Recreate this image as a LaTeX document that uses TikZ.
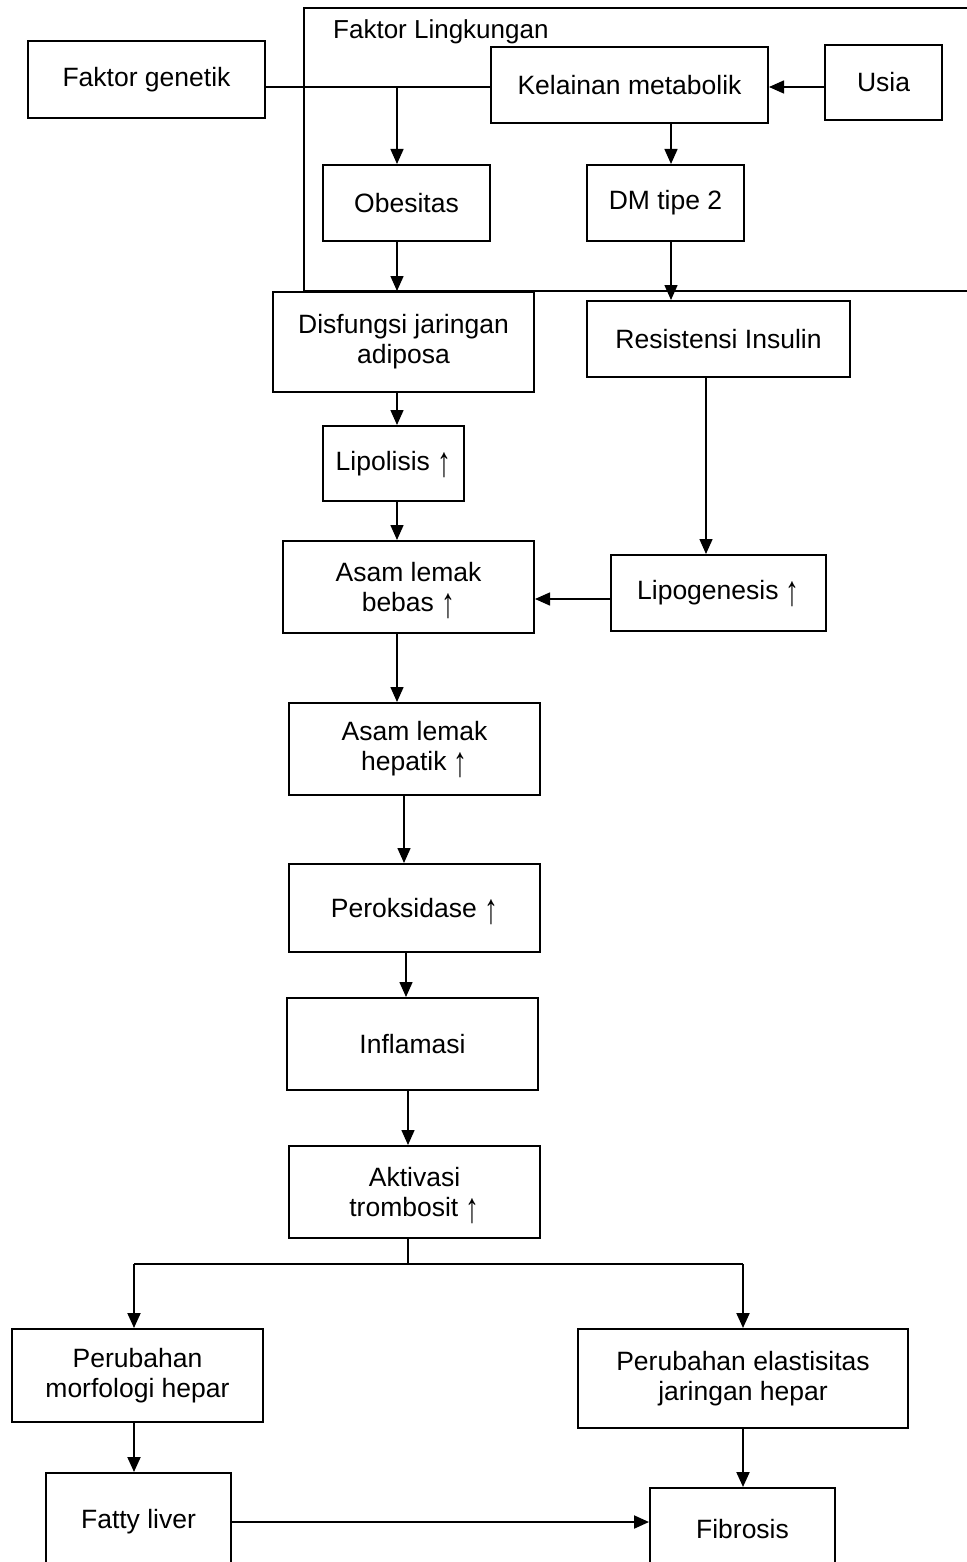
\documentclass[tikz,border=0pt]{standalone}
\usepackage{fontspec}
\setmainfont{Liberation Sans}
\usetikzlibrary{arrows.meta,calc}
\newcommand{\uparr}{\smash{\raisebox{-0.22em}{\scalebox{1.05}[1.6]{↑}}}}
\begin{document}
\begin{tikzpicture}[x=1pt,y=-1pt,
  box/.style={draw, line width=2pt, align=center, inner sep=0pt, font=\fontsize{26.5}{30}\selectfont},
  arr/.style={line width=1.5pt, -{Triangle[width=13pt,length=15pt]}},
  ln/.style={line width=1.5pt},
  frameline/.style={line width=2.5pt}]
\useasboundingbox (0,0) rectangle (966,1562);

% environment frame
\draw[frameline] (975,8) -- (304,8) -- (304,291) -- (975,291);
\node[anchor=base west, inner sep=0pt, font=\fontsize{26}{30}\selectfont] (lingk) at (333,39) {Faktor Lingkungan};

% boxes
\node[box, minimum width=237pt, minimum height=77pt] (gen) at (146.5,79.5) {Faktor genetik};
\node[box, minimum width=277pt, minimum height=76pt] (kel) at (629.5,85) {Kelainan metabolik};
\node[box, minimum width=117pt, minimum height=75pt] (usia) at (883.5,82.5) {Usia};
\node[box, minimum width=167pt, minimum height=76pt] (obes) at (406.5,203) {Obesitas};
\node[box, minimum width=157pt, minimum height=76pt] (dm) at (665.5,203) {DM tipe 2};
\node[box, minimum width=261pt, minimum height=100pt] (dis) at (403.5,342) {Disfungsi jaringan\\adiposa};
\node[box, minimum width=263pt, minimum height=76pt] (res) at (718.5,339) {Resistensi Insulin};
\node[box, minimum width=141pt, minimum height=75pt] (lipo) at (393.5,463.5) {Lipolisis \uparr};
\node[box, minimum width=251pt, minimum height=92pt] (alb) at (408.5,587) {Asam lemak\\bebas \uparr};
\node[box, minimum width=215pt, minimum height=76pt] (lipog) at (718.5,593) {Lipogenesis \uparr};
\node[box, minimum width=251pt, minimum height=92pt] (alh) at (414.5,749) {Asam lemak\\hepatik \uparr};
\node[box, minimum width=251pt, minimum height=88pt] (per) at (414.5,908) {Peroksidase \uparr};
\node[box, minimum width=251pt, minimum height=92pt] (inf) at (412.5,1044) {Inflamasi};
\node[box, minimum width=251pt, minimum height=92pt] (akt) at (414.5,1192) {Aktivasi\\trombosit \uparr};
\node[box, minimum width=251pt, minimum height=93pt] (morf) at (137.5,1375.5) {Perubahan\\morfologi hepar};
\node[box, minimum width=330pt, minimum height=99pt] (elas) at (743,1378.5) {Perubahan elastisitas\\jaringan hepar};
\node[box, minimum width=185pt, minimum height=97pt] (fat) at (138.5,1521.5) {Fatty liver};
\node[box, minimum width=185pt, minimum height=82pt] (fib) at (742.5,1529) {Fibrosis};

% helper coordinates
\coordinate (j1) at (397,87);
\coordinate (x671) at (671,0);
\coordinate (x706) at (706,599);
\coordinate (x404) at (404,0);
\coordinate (x406) at (406,0);
\coordinate (x408) at (408,1264);
\coordinate (bl) at (134,1264);
\coordinate (br) at (743,1264);
\coordinate (yfl) at (0,1522);

% connectors
\draw[ln] (gen.east |- j1) -- (kel.west |- j1);
\draw[arr] (j1) -- (obes.north -| j1);
\draw[arr] (usia.west |- j1) -- (kel.east |- j1);
\draw[arr] (kel.south -| x671) -- (dm.north -| x671);
\draw[arr] (obes.south -| j1) -- (dis.north -| j1);
\draw[arr] (dm.south -| x671) -- (res.north -| x671);
\draw[arr] (dis.south -| j1) -- (lipo.north -| j1);
\draw[arr] (lipo.south -| j1) -- (alb.north -| j1);
\draw[arr] (res.south -| x706) -- (lipog.north -| x706);
\draw[arr] (lipog.west |- x706) -- (alb.east |- x706);
\draw[arr] (alb.south -| j1) -- (alh.north -| j1);
\draw[arr] (alh.south -| x404) -- (per.north -| x404);
\draw[arr] (per.south -| x406) -- (inf.north -| x406);
\draw[arr] (inf.south -| x408) -- (akt.north -| x408);
\draw[line width=2pt] (akt.south -| x408) -- (x408);
\draw[line width=2pt] (bl) -- (br);
\draw[line width=2pt, -{Triangle[width=13pt,length=15pt]}] (bl) -- (morf.north -| bl);
\draw[line width=2pt, -{Triangle[width=13pt,length=15pt]}] (br) -- (elas.north -| br);
\draw[line width=2pt, -{Triangle[width=13pt,length=15pt]}] (morf.south -| bl) -- (fat.north -| bl);
\draw[line width=2pt, -{Triangle[width=13pt,length=15pt]}] (elas.south -| br) -- (fib.north -| br);
\draw[line width=2pt, -{Triangle[width=13pt,length=15pt]}] (fat.east |- yfl) -- (fib.west |- yfl);
\end{tikzpicture}
\end{document}
